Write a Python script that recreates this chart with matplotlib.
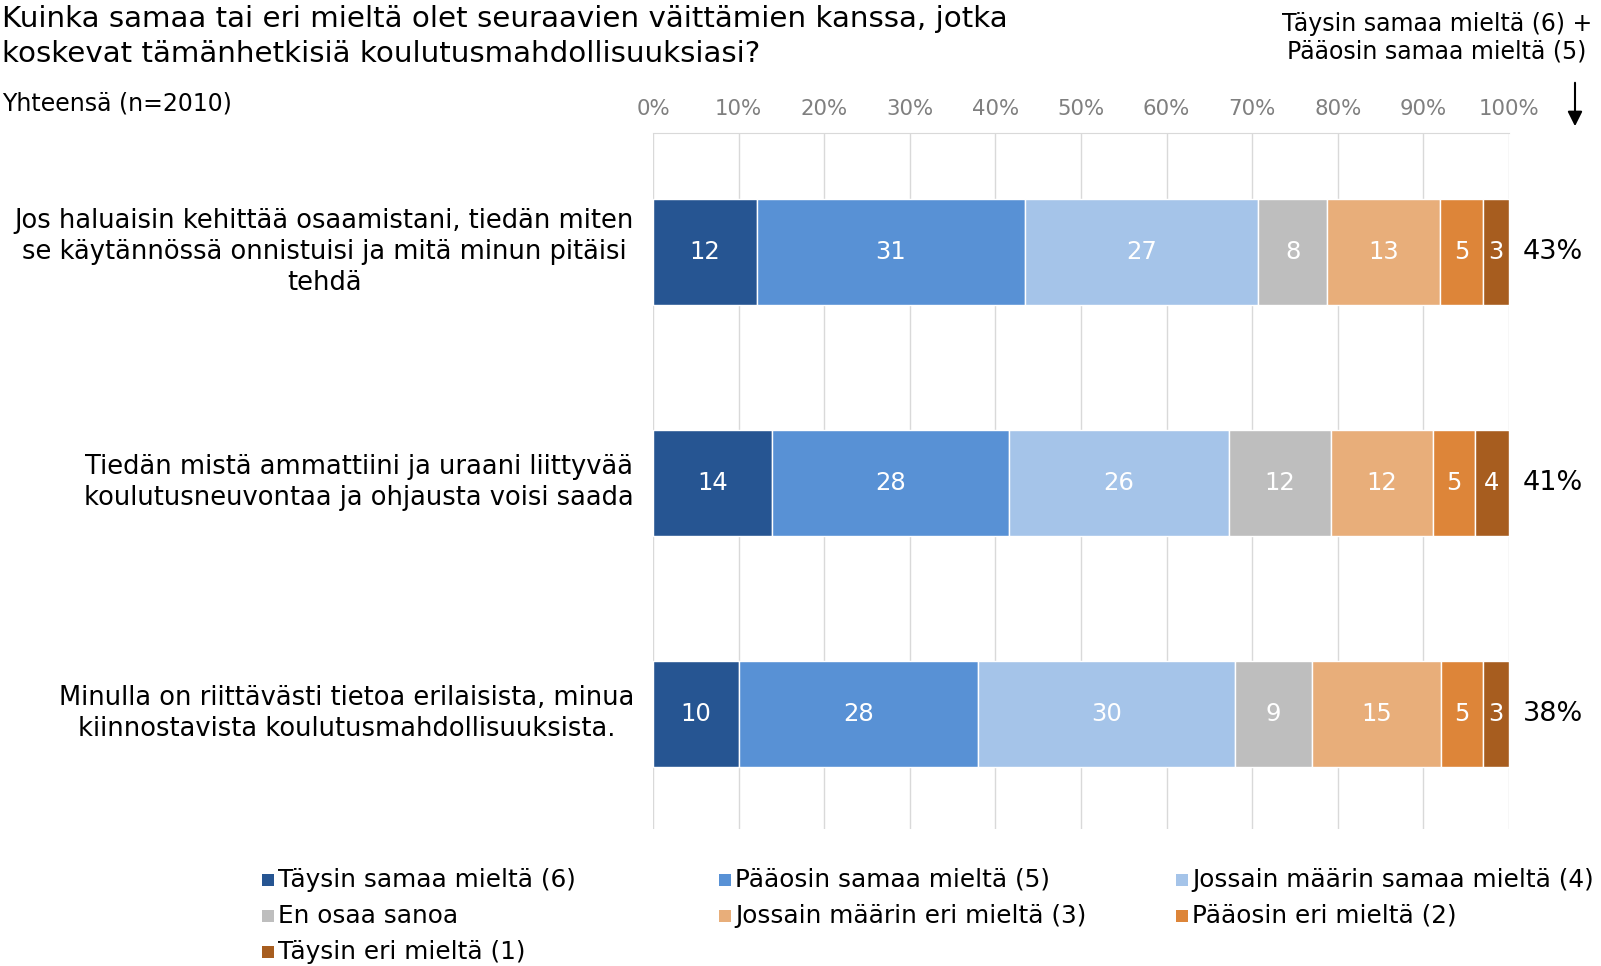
import matplotlib.pyplot as plt
from matplotlib.patches import Rectangle
import numpy as np

plt.rcParams['font.family'] = ['DejaVu Sans']

categories = [
    "Jos haluaisin kehittää osaamistani, tiedän miten\nse käytännössä onnistuisi ja mitä minun pitäisi\ntehdä",
    "Tiedän mistä ammattiini ja uraani liittyvää\nkoulutusneuvontaa ja ohjausta voisi saada",
    "Minulla on riittävästi tietoa erilaisista, minua\nkiinnostavista koulutusmahdollisuuksista.",
]
series_names = [
    "Täysin samaa mieltä (6)",
    "Pääosin samaa mieltä (5)",
    "Jossain määrin samaa mieltä (4)",
    "En osaa sanoa",
    "Jossain määrin eri mieltä (3)",
    "Pääosin eri mieltä (2)",
    "Täysin eri mieltä (1)",
]
values = [
    [12, 31, 27, 8, 13, 5, 3],
    [14, 28, 26, 12, 12, 5, 4],
    [10, 28, 30, 9, 15, 5, 3],
]
totals = ["43%", "41%", "38%"]
colors = ["#265592", "#5891D5", "#A5C4E9", "#BEBEBE", "#E8AE7A", "#DD8539", "#A75D1F"]
xticks = list(range(0, 101, 10))
xticklabels = [f"{t}%" for t in xticks]

W, H = 1601, 966
fig = plt.figure(figsize=(W / 100, H / 100), dpi=100)
ax = fig.add_axes([653/W, 1-829/H, (1509-653)/W, (829-133)/H])

vals = np.array(values, dtype=float)
pct = vals / vals.sum(axis=1, keepdims=True) * 100
y = np.arange(len(categories))
left = np.zeros(len(categories))
for j, name in enumerate(series_names):
    ax.barh(y, pct[:, j], left=left, height=0.455, color=colors[j],
            edgecolor='white', linewidth=1.0, label=name, zorder=3)
    for i in range(len(categories)):
        ax.text(left[i] + pct[i, j] / 2, y[i], f"{int(vals[i, j])}",
                ha='center', va='center', color='white', fontsize=17.5, zorder=4)
    left += pct[:, j]

ax.set_xlim(0, 100)
ax.set_ylim(2.498, -0.515)
ax.set_xticks(xticks)
ax.set_xticklabels(xticklabels)
ax.xaxis.tick_top()
ax.tick_params(axis='x', labelsize=15.3, length=0, pad=10, labelcolor='#7F7F7F')
ax.set_yticks(y)
ax.set_yticklabels([])
ax.tick_params(axis='y', length=0)
for i, c in enumerate(categories):
    ax.text(-0.022, y[i], c, transform=ax.get_yaxis_transform(), ha='right', va='center',
            multialignment='center', fontsize=18.5, color='black', linespacing=1.25)
ax.grid(axis='x', color='#D9D9D9', linewidth=1, zorder=0)
for s in ['right', 'bottom', 'left']:
    ax.spines[s].set_visible(False)
ax.spines['top'].set_color('#D9D9D9')

for i, t in enumerate(totals):
    ax.text(1.016, y[i], t, transform=ax.get_yaxis_transform(), ha='left', va='center',
            fontsize=19.5, color='black')

fig.text(2/W, 1-5/H, "Kuinka samaa tai eri mieltä olet seuraavien väittämien kanssa, jotka\nkoskevat tämänhetkisiä koulutusmahdollisuuksiasi?",
         ha='left', va='top', fontsize=21.2, linespacing=1.3)
fig.text(2/W, 1-104/H, "Yhteensä (n=2010)", ha='left', va='center', fontsize=17)
fig.text(1592/W, 1-38/H, "Täysin samaa mieltä (6) +\nPääosin samaa mieltä (5)",
         ha='right', va='center', multialignment='center', fontsize=17, linespacing=1.2)
fig.add_artist(plt.Annotation('', xy=(1575/W, 1-129/H), xytext=(1575/W, 1-80/H),
                              xycoords='figure fraction', textcoords='figure fraction',
                              arrowprops=dict(arrowstyle='-|>', color='black', lw=1.5,
                                              mutation_scale=22)))

# legend laid out in a row-major grid with equal column widths
col_x = [262, 719, 1176]
row_y = [880, 916, 952]
sq = 12
for k, (name, c) in enumerate(zip(series_names, colors)):
    r, col = divmod(k, 3)
    x0, y0 = col_x[col], row_y[r]
    fig.add_artist(Rectangle((x0/W, (H - y0 - sq/2)/H), sq/W, sq/H,
                             transform=fig.transFigure, facecolor=c, edgecolor='none'))
    fig.text((x0 + sq + 4)/W, 1 - y0/H, name, ha='left', va='center', fontsize=17.8)

fig.savefig('out.png', dpi=100)
